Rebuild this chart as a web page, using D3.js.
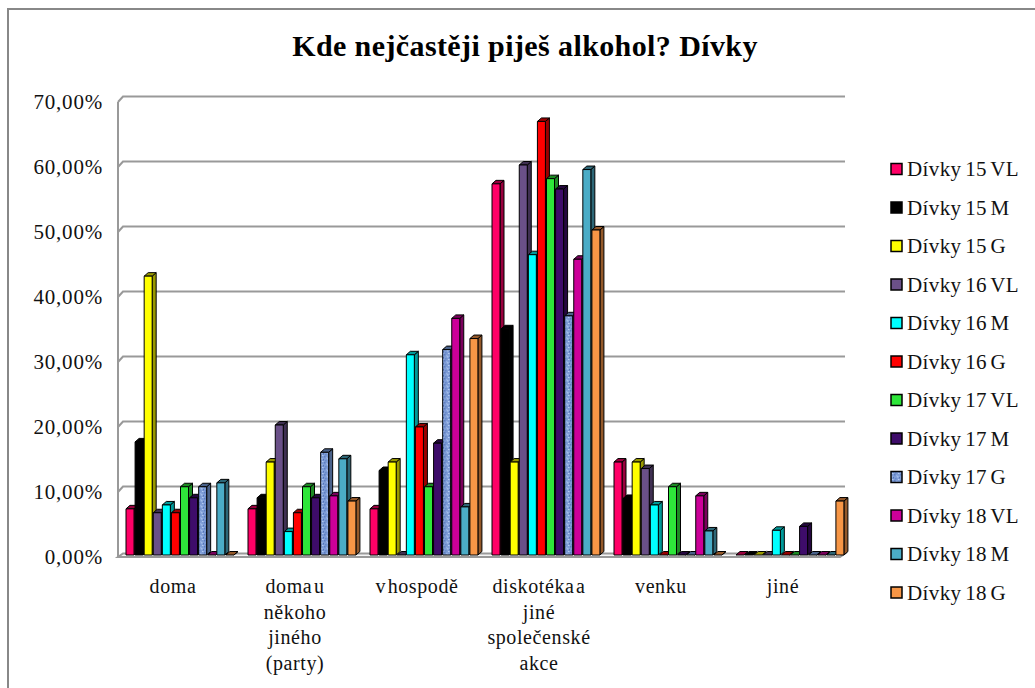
<!DOCTYPE html>
<html><head><meta charset="utf-8">
<script src="https://cdn.jsdelivr.net/npm/d3@7"></script>
<style>
body{margin:0;background:#fff;}
svg{display:block;}
</style></head>
<body><svg id="c" width="1035" height="688"></svg>
<script>
const title = "Kde nejčastěji piješ alkohol? Dívky";
const categories = ["doma", "doma u někoho jiného (party)", "v hospodě", "diskotéka a jiné společenské akce", "venku", "jiné"];
const categoryLines = [["doma"], ["doma u", "někoho", "jiného", "(party)"], ["v hospodě"], ["diskotéka a", "jiné", "společenské", "akce"], ["venku"], ["jiné"]];
const series = ["Dívky 15 VL", "Dívky 15 M", "Dívky 15 G", "Dívky 16 VL", "Dívky 16 M", "Dívky 16 G", "Dívky 17 VL", "Dívky 17 M", "Dívky 17 G", "Dívky 18 VL", "Dívky 18 M", "Dívky 18 G"];
const seriesColors = ["#FF0066", "#000000", "#FFFF00", "#6A5088", "#00FFFF", "#FF0000", "#2EE63A", "#3E0C6A", "url(#pat17g)", "#CC0099", "#4BACC6", "#F79646"];
const seriesDark = ["#99003D", "#000000", "#999900", "#3F3052", "#009999", "#990000", "#1C8A23", "#25073F", "#4A628A", "#7A005C", "#2D6777", "#94592A"];
// values in percent, one array per category, in series order
const valDoma      = [7.1, 17.4, 42.9, 6.5, 7.7, 6.5, 10.5, 8.8, 10.5, 0, 11.1, 0];
const valDomaU     = [7.1, 8.8, 14.3, 20.0, 3.6, 6.5, 10.5, 8.8, 15.8, 9.1, 14.8, 8.3];
const valHospoda   = [7.1, 13.0, 14.3, 0, 30.8, 19.7, 10.5, 17.2, 31.6, 36.4, 7.4, 33.3];
const valDiskoteka = [57.1, 34.8, 14.3, 60.0, 46.2, 66.7, 57.9, 56.3, 36.8, 45.5, 59.3, 50.0];
const valVenku     = [14.3, 8.7, 14.3, 13.3, 7.7, 0, 10.5, 0, 0, 9.1, 3.7, 0];
const valJine      = [0, 0, 0, 0, 3.8, 0, 0, 4.4, 0, 0, 0, 8.3];
const yTicks = [0, 10, 20, 30, 40, 50, 60, 70];

const values = [valDoma, valDomaU, valHospoda, valDiskoteka, valVenku, valJine];

const svg = d3.select("#c");
const FONT = "Liberation Serif";
const loc = d3.formatLocale({decimal: ",", thousands: " ", grouping: [3], currency: ["", ""]});
const fmt = v => loc.format(".2%")(v / 100);

// frame
svg.append("rect").attr("x", 8).attr("y", 9).attr("width", 1100).attr("height", 800)
  .attr("fill", "#fff").attr("stroke", "#888").attr("stroke-width", 2);

// title
svg.append("text").attr("x", 525).attr("y", 56).attr("text-anchor", "middle")
  .style("font-family", FONT).style("font-size", "30px").style("font-weight", "bold")
  .style("letter-spacing", "0.4px").text(title);

const y = d3.scaleLinear().domain([0, 70]).range([555, 100]);
const x0 = d3.scaleBand().domain(categories).range([112, 844]);
const x1 = d3.scaleBand().domain(series).range([0, 109]);
const wallL = 118, wallDx = 5, wallDy = -3.5, gridR = 845;
const bdx = 4, bdy = -3.5, bw = 8;

// patterns
const defs = svg.append("defs");
const pat = defs.append("pattern").attr("id", "pat17g").attr("patternUnits", "userSpaceOnUse")
  .attr("width", 6).attr("height", 6);
pat.append("rect").attr("width", 6).attr("height", 6).attr("fill", "#7D9CD6");
[[0,0,"#5C7DC0"],[3,2,"#A9C2EC"],[1,4,"#6688C8"],[4,5,"#B6CBF0"],[2,1,"#93AEE2"],[5,3,"#5474B8"]].forEach(p =>
  pat.append("rect").attr("x", p[0]).attr("y", p[1]).attr("width", 1.5).attr("height", 1.5).attr("fill", p[2]));

// gridlines on back wall with bevel on side wall
const grid = svg.append("g").attr("fill", "none").attr("stroke", "#999").attr("stroke-width", 2);
yTicks.forEach(t => {
  if (t === 0) return;
  const yf = y(t);
  grid.append("path").attr("d", `M${wallL},${yf + 2} L${wallL + wallDx},${yf + wallDy} L${gridR},${yf + wallDy}`);
});
grid.append("line").attr("x1", wallL).attr("x2", wallL).attr("y1", y(70) + 2).attr("y2", y(0) + 2);
// floor
svg.append("path")
  .attr("d", `M${wallL},${y(0) + 2} L${gridR - wallDx},${y(0) + 2} L${gridR},${y(0) + 2 + wallDy} L${wallL + wallDx},${y(0) + 2 + wallDy} Z`)
  .attr("fill", "#f4f4f4").attr("stroke", "#999").attr("stroke-width", 2);

// y labels
svg.append("g").selectAll("text").data(yTicks).join("text")
  .style("font-family", FONT).style("font-size", "21px").style("letter-spacing", "0.8px")
  .attr("x", 103).attr("y", d => y(d) + 2).attr("dy", "0.35em").attr("text-anchor", "end")
  .attr("fill", "#111").text(d => fmt(d));

// bars
const bars = svg.append("g").attr("stroke", "#000").attr("stroke-width", 1).attr("stroke-linejoin", "round");
categories.forEach((c, ci) => {
  series.forEach((s, si) => {
    const v = values[ci][si];
    const x = x0(c) + 14 + x1(s);
    const yt = y(v), yb = y(0);
    const g = bars.append("g");
    g.append("path").attr("d", `M${x + bw},${yt} L${x + bw + bdx},${yt + bdy} L${x + bw + bdx},${yb + bdy} L${x + bw},${yb} Z`)
      .attr("fill", seriesDark[si]);
    g.append("path").attr("d", `M${x},${yt} L${x + bdx},${yt + bdy} L${x + bw + bdx},${yt + bdy} L${x + bw},${yt} Z`)
      .attr("fill", seriesDark[si]);
    if (v > 0) {
      g.append("rect").attr("x", x).attr("y", yt).attr("width", bw).attr("height", yb - yt)
        .attr("fill", seriesColors[si]);
    }
  });
});

// category labels
const cl = svg.append("g");
categories.forEach((c, ci) => {
  categoryLines[ci].forEach((line, li) => {
    cl.append("text").style("font-family", FONT).style("font-size", "20px")
      .style("letter-spacing", "0.6px").style("word-spacing", "-4px")
      .attr("text-anchor", "middle").attr("fill", "#111")
      .attr("x", x0(c) + x0.bandwidth() / 2).attr("y", 593 + li * 25.5)
      .text(line);
  });
});

// legend
const leg = svg.append("g");
series.forEach((s, si) => {
  const cy = 169 + si * 38.5;
  leg.append("rect").attr("x", 891).attr("y", cy - 5.5).attr("width", 11).attr("height", 11)
    .attr("fill", seriesColors[si]).attr("stroke", "#000").attr("stroke-width", 1.5);
  leg.append("text").style("font-family", FONT).style("font-size", "21px").style("letter-spacing", "0.4px")
    .style("word-spacing", "-2px")
    .attr("x", 907).attr("y", cy).attr("dy", "0.35em")
    .attr("fill", "#111").text(s);
});
</script></body></html>
